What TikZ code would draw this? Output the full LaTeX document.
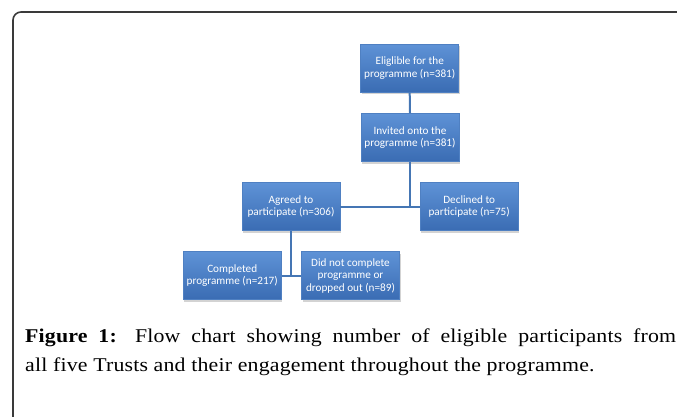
\documentclass[tikz,border=0pt]{standalone}
\usepackage{fontspec}
\setmainfont{Liberation Serif}
\newfontfamily\capfont[FakeStretch=1.12,LetterSpace=1]{Liberation Serif}
\newfontfamily\boxfont{Carlito}
\usetikzlibrary{shadows}
\definecolor{boxtop}{HTML}{5E92D6}
\definecolor{boxbot}{HTML}{3A6CB3}
\definecolor{boxline}{HTML}{4F80C2}
\definecolor{conn}{HTML}{4576B4}
\definecolor{framec}{HTML}{3A3A3A}
\tikzset{
  flowbox/.style={rectangle, minimum width=98pt, minimum height=48pt, inner sep=1pt,
    top color=boxtop, bottom color=boxbot, draw=boxline, line width=0.8pt,
    align=center, text=white, font=\boxfont\fontsize{11.2}{12.3}\selectfont,
    drop shadow={opacity=0.35, shadow xshift=1.2pt, shadow yshift=-2pt}},
  link/.style={draw=conn, line width=2pt},
  capline/.style={anchor=base west, inner sep=0pt, font=\capfont\fontsize{19.5}{22}\selectfont}
}
\begin{document}
\begin{tikzpicture}[x=1pt,y=-1pt]
\useasboundingbox (0,0) rectangle (677,416);
\draw[framec, line width=1.6pt, rounded corners=8pt] (700,12) -- (13,12) -- (13,440);
\node[flowbox] (b1) at (409.7,68.2) {Eliglible for the\\programme (n=381)};
\node[flowbox] (b2) at (410,137.5) {Invited onto the\\programme (n=381)};
\node[flowbox] (b3) at (291,206.8) {Agreed to\\participate (n=306)};
\node[flowbox] (b4) at (469.2,206.8) {Declined to\\participate (n=75)};
\node[flowbox] (b5) at (232.2,275.8) {Completed\\programme (n=217)};
\node[flowbox] (b6) at (350.5,275.8) {Did not complete\\programme or\\dropped out (n=89)};
\draw[link] (b1.south) -- (b2.north);
\draw[link] (b3.east) -- (b4.west);
\draw[link] (b2.south) -- (b2.south |- b3.east);
\draw[link] (b5.east) -- (b6.west);
\draw[link] (b3.south) -- (b3.south |- b5.east);
\node[capline] (c1) at (25,342.3) {\makebox[651pt][s]{\textbf{Figure 1:} Flow chart showing number of eligible participants from}};
\node[capline] (c2) at (25,371.7) {all five Trusts and their engagement throughout the programme.};
\end{tikzpicture}
\end{document}
